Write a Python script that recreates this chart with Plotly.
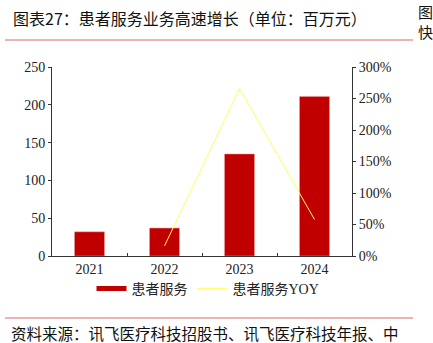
import plotly.graph_objects as go

years = ["2021", "2022", "2023", "2024"]
service = [32, 37, 135, 211]
yoy_years = ["2022", "2023", "2024"]
yoy = [16, 266, 58]

title_text = "图表27：患者服务业务高速增长（单位：百万元）"
source_text = "资料来源：讯飞医疗科技招股书、讯飞医疗科技年报、中"

serif = "Liberation Serif, Times New Roman, serif"
cjk = "Noto Sans CJK SC, sans-serif"
legend_font = "Liberation Serif, Noto Sans CJK SC, serif"

fig = go.Figure()
fig.add_trace(go.Bar(x=years, y=service, name="患者服务", marker_color="#c00000",
                     marker_line_color="#f0a0a0", marker_line_width=0.5, width=0.4,
                     showlegend=False))
fig.add_trace(go.Scatter(x=[None], y=[None], name="患者服务", mode="lines",
                         line=dict(color="#c00000", width=5)))
fig.add_trace(go.Scatter(x=yoy_years, y=yoy, name="患者服务YOY", mode="lines",
                         line=dict(color="#ffff60", width=1), yaxis="y2"))

W, H = 433, 343
L, R, T, B = 52, 352, 67, 256
fig.update_layout(
    width=W, height=H,
    margin=dict(l=L, r=W - R, t=T, b=H - B),
    paper_bgcolor="white", plot_bgcolor="white",
    showlegend=True,
    legend=dict(orientation="h", x=0.52, xanchor="center", y=-0.09, yanchor="top",
                font=dict(family=legend_font, size=14, color="#222"),
                bgcolor="rgba(0,0,0,0)", traceorder="normal"),
    xaxis=dict(type="category", showline=True, linecolor="#333", linewidth=1,
               ticks="inside", tickson="boundaries", ticklen=3, tickcolor="#333",
               tickfont=dict(family=serif, size=14, color="#222"), showgrid=False),
    yaxis=dict(range=[0, 250], dtick=50, showline=True, linecolor="#333", linewidth=1,
               ticks="outside", ticklen=3, tickcolor="#333", showgrid=False, zeroline=False,
               tickfont=dict(family=serif, size=14, color="#222")),
    yaxis2=dict(range=[0, 300], dtick=50, overlaying="y", side="right", showline=True,
                linecolor="#333", linewidth=1, ticks="outside", ticklen=3, tickcolor="#333",
                ticksuffix="%", showgrid=False, zeroline=False,
                tickfont=dict(family=serif, size=14, color="#222")),
    annotations=[
        dict(text=title_text, xref="paper", yref="paper", x=(11 - L) / (R - L),
             y=(B - 18) / (B - T), xanchor="left", yanchor="middle", showarrow=False,
             font=dict(family=cjk, size=16, color="#111")),
        dict(text="图", xref="paper", yref="paper", x=(416 - L) / (R - L),
             y=(B - 11) / (B - T), xanchor="left", yanchor="middle", showarrow=False,
             font=dict(family=cjk, size=15, color="#111")),
        dict(text="快", xref="paper", yref="paper", x=(416 - L) / (R - L),
             y=(B - 31) / (B - T), xanchor="left", yanchor="middle", showarrow=False,
             font=dict(family=cjk, size=15, color="#111")),
        dict(text=source_text, xref="paper", yref="paper", x=(9 - L) / (R - L),
             y=(B - 333) / (B - T), xanchor="left", yanchor="middle", showarrow=False,
             font=dict(family=cjk, size=15.5, color="#111")),
    ],
    shapes=[
        dict(type="line", xref="paper", yref="paper", x0=(5 - L) / (R - L), x1=(413 - L) / (R - L),
             y0=(B - 40) / (B - T), y1=(B - 40) / (B - T), line=dict(color="#e06666", width=1)),
        dict(type="line", xref="paper", yref="paper", x0=(5 - L) / (R - L), x1=(413 - L) / (R - L),
             y0=(B - 318) / (B - T), y1=(B - 318) / (B - T), line=dict(color="#e06666", width=1)),
    ],
)

fig.write_html("out.html")
